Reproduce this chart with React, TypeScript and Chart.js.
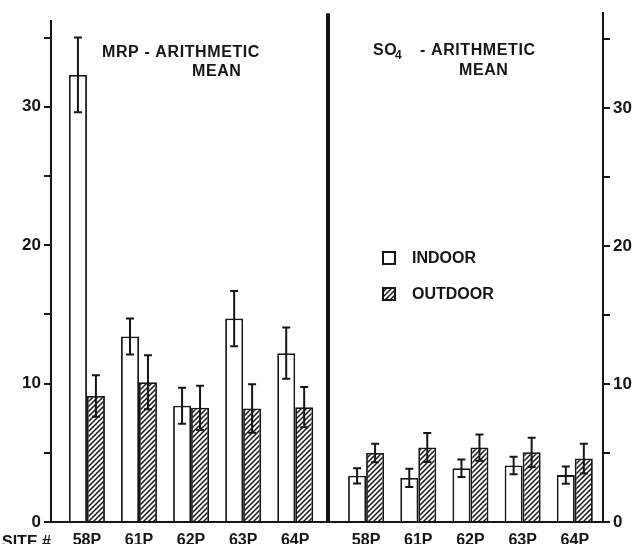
import React, { useEffect, useRef } from "react";
import { Chart, registerables } from "chart.js";

Chart.register(...registerables);

// ---- data ----
const SITES = ["58P", "61P", "62P", "63P", "64P"];
const MRP_INDOOR = [32.3, 13.4, 8.4, 14.7, 12.2];
const MRP_INDOOR_ERR = [2.7, 1.3, 1.3, 2.0, 1.85];
const MRP_OUTDOOR = [9.1, 10.1, 8.25, 8.2, 8.3];
const MRP_OUTDOOR_ERR = [1.5, 1.95, 1.6, 1.75, 1.45];
const SO4_INDOOR = [3.35, 3.2, 3.9, 4.1, 3.4];
const SO4_INDOOR_ERR = [0.55, 0.67, 0.64, 0.63, 0.62];
const SO4_OUTDOOR = [5.0, 5.4, 5.4, 5.05, 4.6];
const SO4_OUTDOOR_ERR = [0.67, 1.05, 0.95, 1.06, 1.08];
const Y_TICKS = [0, 5, 10, 15, 20, 25, 30, 35];
const Y_LABELED = [0, 10, 20, 30];

const INK = "#151515";
const FAMILY = '"Liberation Sans", Arial, Helvetica, sans-serif';

function makeHatch(): CanvasPattern | string {
  const s = 5;
  const c = document.createElement("canvas");
  c.width = s;
  c.height = s;
  const g = c.getContext("2d");
  if (!g) return "#888";
  g.fillStyle = "#fff";
  g.fillRect(0, 0, s, s);
  g.strokeStyle = INK;
  g.lineWidth = 1.5;
  g.beginPath();
  g.moveTo(0, s);
  g.lineTo(s, 0);
  g.moveTo(-1, 1);
  g.lineTo(1, -1);
  g.moveTo(s - 1, s + 1);
  g.lineTo(s + 1, s - 1);
  g.stroke();
  return g.createPattern(c, "repeat") || "#888";
}

const errorBarsPlugin = {
  id: "errorBars",
  afterDatasetsDraw(chart: any) {
    const ctx = chart.ctx;
    const y = chart.scales.y;
    ctx.save();
    ctx.strokeStyle = INK;
    ctx.lineWidth = 2;
    chart.data.datasets.forEach((ds: any, di: number) => {
      const meta = chart.getDatasetMeta(di);
      meta.data.forEach((bar: any, i: number) => {
        const v = ds.data[i].y;
        const e = ds.errors[i];
        const top = y.getPixelForValue(v + e);
        const bot = y.getPixelForValue(v - e);
        const x = bar.x;
        const cap = 4;
        ctx.beginPath();
        ctx.moveTo(x, top);
        ctx.lineTo(x, bot);
        ctx.moveTo(x - cap, top);
        ctx.lineTo(x + cap, top);
        ctx.moveTo(x - cap, bot);
        ctx.lineTo(x + cap, bot);
        ctx.stroke();
      });
    });
    ctx.restore();
  },
};

function font(size: number) {
  return `bold ${size}px ${FAMILY}`;
}

function buildConfig(p: any) {
  const toPts = (arr: number[]) => arr.map((v, i) => ({ x: i, y: v }));
  const yAxis = {
    position: p.side,
    min: 0,
    max: p.yMax,
    afterBuildTicks: (s: any) => {
      s.ticks = Y_TICKS.map((v) => ({ value: v }));
    },
    afterFit: (s: any) => {
      s.width = p.axisWidth;
    },
    grid: {
      display: true,
      drawOnChartArea: false,
      drawTicks: true,
      tickLength: 7,
      color: INK,
      lineWidth: 2,
    },
    border: { display: true, color: INK, width: 2 },
    ticks: {
      callback: (v: number) => (Y_LABELED.includes(v) ? String(v) : ""),
      padding: 3,
      color: INK,
      font: { family: FAMILY, size: 17, weight: "bold" },
    },
  };
  return {
    type: "bar",
    data: {
      datasets: [
        {
          label: "INDOOR",
          data: toPts(p.indoor),
          errors: p.indoorErr,
          backgroundColor: "#ffffff",
          borderColor: INK,
          borderWidth: 1.8,
        },
        {
          label: "OUTDOOR",
          data: toPts(p.outdoor),
          errors: p.outdoorErr,
          backgroundColor: p.hatch,
          borderColor: INK,
          borderWidth: 1.8,
        },
      ],
    },
    options: {
      animation: false,
      responsive: false,
      maintainAspectRatio: false,
      layout: { padding: p.padding },
      datasets: { bar: { categoryPercentage: 0.69, barPercentage: 1 } },
      plugins: { legend: { display: false }, tooltip: { enabled: false } },
      scales: {
        x: {
          type: "linear",
          min: p.xMin,
          max: p.xMax,
          offset: false,
          afterBuildTicks: (s: any) => {
            s.ticks = SITES.map((_, i) => ({ value: i }));
          },
          afterFit: (s: any) => {
            s.height = 22;
          },
          grid: { display: false, drawTicks: false },
          border: { display: true, color: INK, width: 2 },
          ticks: {
            callback: (v: number) => SITES[v] ?? "",
            padding: 9,
            autoSkip: false,
            maxRotation: 0,
            color: INK,
            font: { family: FAMILY, size: 16, weight: "bold" },
          },
        },
        y: yAxis,
      },
    },
    plugins: [
      errorBarsPlugin,
      {
        id: "annotations",
        afterDraw(chart: any) {
          const ctx = chart.ctx;
          ctx.save();
          ctx.fillStyle = INK;
          ctx.strokeStyle = INK;
          p.annotate(ctx, chart);
          ctx.restore();
        },
      },
    ],
  };
}

export default function App() {
  const leftRef = useRef<HTMLCanvasElement>(null);
  const rightRef = useRef<HTMLCanvasElement>(null);

  useEffect(() => {
    const hatch = makeHatch();
    const left = new Chart(
      leftRef.current as HTMLCanvasElement,
      buildConfig({
        side: "left",
        indoor: MRP_INDOOR,
        indoorErr: MRP_INDOOR_ERR,
        outdoor: MRP_OUTDOOR,
        outdoorErr: MRP_OUTDOOR_ERR,
        hatch,
        xMin: -0.69,
        xMax: 4.63,
        yMax: 36.2,
        axisWidth: 51,
        padding: { left: 0, right: 2, top: 21, bottom: 0 },
        annotate: (ctx: CanvasRenderingContext2D) => {
          ctx.font = font(16);
          (ctx as any).letterSpacing = "0.6px";
          ctx.textBaseline = "alphabetic";
          ctx.fillText("MRP - ARITHMETIC", 102, 57);
          ctx.fillText("MEAN", 192, 76);
          (ctx as any).letterSpacing = "0px";
          ctx.fillText("SITE #", 2, 547);
        },
      }) as any
    );
    const right = new Chart(
      rightRef.current as HTMLCanvasElement,
      buildConfig({
        side: "right",
        indoor: SO4_INDOOR,
        indoorErr: SO4_INDOOR_ERR,
        outdoor: SO4_OUTDOOR,
        outdoorErr: SO4_OUTDOOR_ERR,
        hatch,
        xMin: -0.73,
        xMax: 4.54,
        yMax: 36.9,
        axisWidth: 34,
        padding: { left: 8, right: 0, top: 12, bottom: 0 },
        annotate: (ctx: CanvasRenderingContext2D, chart: any) => {
          const a = chart.chartArea;
          // divider between the two panels
          ctx.lineWidth = 4;
          ctx.beginPath();
          ctx.moveTo(a.left, a.top);
          ctx.lineTo(a.left, a.bottom);
          ctx.stroke();
          // title
          ctx.textBaseline = "alphabetic";
          ctx.font = font(16);
          (ctx as any).letterSpacing = "0.6px";
          ctx.fillText("SO", 53, 55);
          ctx.font = font(12);
          ctx.fillText("4", 75, 59);
          ctx.font = font(16);
          ctx.fillText("- ARITHMETIC", 100, 55);
          ctx.fillText("MEAN", 139, 75);
          // legend
          ctx.lineWidth = 2;
          ctx.fillStyle = "#fff";
          ctx.fillRect(63, 252, 12, 12);
          ctx.strokeRect(63, 252, 12, 12);
          ctx.fillStyle = hatch as any;
          ctx.fillRect(63, 288, 12, 12);
          ctx.strokeRect(63, 288, 12, 12);
          ctx.fillStyle = INK;
          (ctx as any).letterSpacing = "0px";
          ctx.textBaseline = "middle";
          ctx.fillText("INDOOR", 92, 259);
          ctx.fillText("OUTDOOR", 92, 295);
        },
      }) as any
    );
    return () => {
      left.destroy();
      right.destroy();
    };
  }, []);

  return (
    <div
      style={{
        position: "fixed",
        left: 0,
        top: 0,
        width: 637,
        height: 544,
        background: "#fff",
        overflow: "hidden",
      }}
    >
      <canvas
        ref={leftRef}
        width={330}
        height={544}
        style={{ position: "absolute", left: 0, top: 0 }}
      />
      <canvas
        ref={rightRef}
        width={317}
        height={544}
        style={{ position: "absolute", left: 320, top: 0 }}
      />
    </div>
  );
}
